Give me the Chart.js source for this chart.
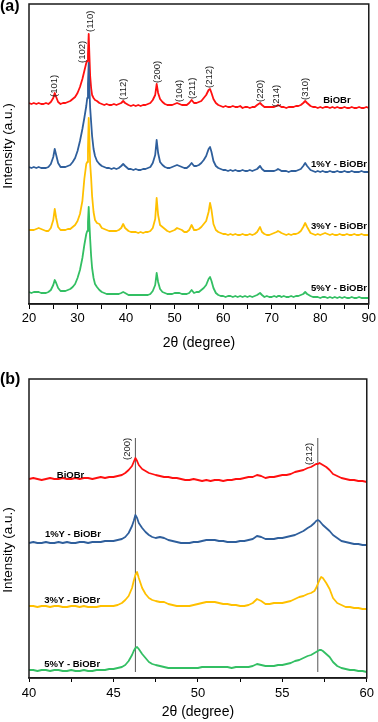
<!DOCTYPE html>
<html>
<head>
<meta charset="utf-8">
<script src="https://cdn.jsdelivr.net/npm/chart.js@4/dist/chart.umd.min.js"></script>
<style>
  html, body { margin: 0; padding: 0; background: #fff; }
  #wrapA { position: absolute; left: 0; top: 0; width: 378px; height: 365px; }
  #wrapB { position: absolute; left: 0; top: 365px; width: 378px; height: 357px; }
  canvas { display: block; }
</style>
</head>
<body>
<div id="wrapA"><canvas id="chartA" width="378" height="365"></canvas></div>
<div id="wrapB"><canvas id="chartB" width="378" height="357"></canvas></div>
<script>
// ---------- Panel (a): 2θ 20–90 ----------
const thetaA = [
  20, 20.5, 21, 21.5, 22, 22.5, 23, 23.5, 24, 24.5,
  25, 25.3, 25.6, 26, 26.5, 27, 27.5, 28, 28.5, 29,
  29.5, 30, 30.5, 31, 31.4, 31.8, 32.0, 32.15, 32.3, 32.45,
  32.6, 32.8, 33.0, 33.3, 33.6, 34, 34.5, 35, 35.5, 36,
  36.5, 37, 37.5, 38, 38.5, 39, 39.4, 39.8, 40.5, 41,
  41.5, 42, 42.5, 43, 43.5, 44, 44.5, 45, 45.5, 46,
  46.3, 46.6, 47, 47.5, 48, 48.5, 49, 49.5, 50, 50.5,
  51, 51.5, 52, 52.5, 53, 53.5, 54, 54.5, 55, 55.5,
  56, 56.5, 57, 57.3, 57.6, 58, 58.5, 59, 59.5, 60,
  60.5, 61, 61.5, 62, 62.5, 63, 63.5, 64, 64.5, 65,
  65.5, 66, 66.5, 67, 67.6, 68, 68.5, 69, 69.5, 70,
  70.5, 71, 71.3, 71.7, 72, 72.5, 73, 73.5, 74, 74.5,
  75, 75.5, 76, 76.5, 76.9, 77.3, 78, 78.5, 79, 79.5,
  80, 80.5, 81, 81.5, 82, 82.5, 83, 83.5, 84, 84.5,
  85, 85.5, 86, 86.5, 87, 87.5, 88, 88.5, 89, 89.5, 90
];
const bioBrA = [
  201, 200, 201, 200, 201, 200, 200, 201, 200, 202,
  206, 211, 207, 202, 200, 201, 201, 202, 203, 205,
  207, 211, 217, 225, 233, 241, 243, 250, 270, 248,
  228, 216, 209, 206, 204, 203, 201, 200, 199, 200,
  199, 199, 200, 199, 200, 201, 203, 201, 199, 198,
  199, 198, 199, 198, 199, 199, 200, 201, 204, 209,
  220, 211, 205, 202, 200, 199, 199, 199, 200, 201,
  200, 199, 199, 199, 201, 204, 201, 201, 202, 203,
  206, 209, 214, 215, 211, 205, 201, 199, 198, 197,
  198, 197, 197, 198, 197, 197, 198, 196, 197, 197,
  196, 197, 197, 199, 201, 199, 197, 197, 197, 197,
  197, 198, 199, 198, 197, 197, 196, 197, 197, 197,
  198, 198, 199, 201, 203, 201, 198, 197, 197, 196,
  197, 196, 197, 197, 196, 197, 196, 197, 196, 196,
  197, 196, 196, 197, 196, 196, 197, 196, 196, 197, 196
];
const y1A = [
  137, 136, 137, 136, 137, 136, 136, 136, 137, 140,
  147, 155, 149, 141, 137, 137, 137, 138, 139, 142,
  146, 153, 163, 175, 186, 198, 206, 220, 241, 215,
  196, 182, 168, 155, 148, 143, 140, 138, 137, 136,
  136, 135, 136, 135, 136, 138, 140, 138, 135, 135,
  134, 135, 134, 134, 135, 135, 136, 137, 141, 149,
  164, 151, 142, 139, 137, 136, 136, 137, 138, 139,
  138, 137, 136, 136, 138, 141, 138, 138, 139, 141,
  144, 148, 155, 157, 152, 143, 138, 136, 135, 134,
  134, 133, 134, 133, 134, 133, 133, 134, 133, 133,
  134, 133, 134, 135, 138, 135, 133, 133, 133, 133,
  133, 134, 135, 134, 133, 133, 133, 132, 133, 133,
  133, 134, 135, 138, 141, 138, 134, 133, 132, 133,
  132, 133, 132, 132, 133, 132, 132, 133, 132, 132,
  133, 132, 132, 133, 132, 132, 132, 133, 132, 132, 132
];
const y3A = [
  74, 74, 74, 75, 76, 75, 74, 73, 73, 76,
  84, 95, 86, 77, 74, 74, 74, 75, 75, 77,
  79, 83, 90, 103, 125, 140, 142, 155, 186, 165,
  140, 126, 108, 92, 84, 81, 80, 76, 75, 74,
  73, 73, 73, 73, 74, 76, 80, 76, 73, 72,
  72, 72, 71, 72, 71, 72, 72, 73, 76, 85,
  106, 89, 79, 77, 75, 73, 72, 73, 74, 76,
  75, 74, 72, 72, 74, 79, 74, 74, 75, 77,
  80, 83, 92, 101, 94, 80, 74, 72, 71, 70,
  70, 69, 70, 69, 70, 69, 69, 70, 69, 69,
  70, 69, 70, 72, 77, 72, 70, 69, 69, 70,
  71, 72, 73, 72, 71, 70, 69, 70, 69, 70,
  70, 71, 73, 77, 81, 77, 71, 70, 69, 70,
  69, 70, 71, 70, 69, 70, 69, 69, 70, 69,
  69, 70, 69, 69, 70, 69, 69, 70, 69, 69, 69
];
const y5A = [
  12, 11, 12, 12, 12, 11, 11, 11, 12, 14,
  19, 24, 21, 16, 13, 13, 13, 14, 15, 17,
  20, 26, 34, 46, 59, 70, 73, 82, 97, 80,
  65, 48, 36, 26, 20, 17, 14, 12, 11, 10,
  10, 10, 10, 10, 10, 11, 12, 11, 9, 9,
  9, 9, 9, 9, 9, 9, 9, 10, 13, 19,
  31, 22, 15, 12, 11, 10, 10, 10, 11, 11,
  11, 10, 10, 10, 11, 14, 11, 12, 12, 14,
  16, 19, 25, 27, 23, 16, 11, 9, 8, 8,
  7, 8, 8, 7, 8, 7, 8, 7, 8, 7,
  8, 7, 8, 9, 11, 9, 7, 8, 7, 7,
  8, 7, 8, 8, 7, 8, 7, 7, 8, 7,
  8, 8, 9, 10, 12, 10, 8, 7, 7, 7,
  6, 7, 7, 6, 7, 6, 7, 6, 7, 6,
  7, 6, 6, 7, 6, 6, 7, 6, 6, 6, 6
];
const millerA = ['(101)', '(102)', '(110)', '(112)', '(200)', '(104)', '(211)', '(212)', '(220)', '(214)', '(310)'];
const millerThetaA = [25.3, 31.05, 32.6, 39.5, 46.45, 50.9, 53.6, 57.2, 67.6, 71.0, 76.85];
const millerStartA = [207, 241, 272, 204, 221, 202, 205, 216, 202, 197, 204];

// ---------- Panel (b): 2θ 40–60 ----------
const thetaB = [
  40, 40.25, 40.5, 40.75, 41, 41.25, 41.5, 41.75, 42, 42.25, 42.5, 42.75, 43, 43.25, 43.5, 43.75,
  44, 44.25, 44.5, 44.75, 45, 45.25, 45.5,
  45.7, 45.9, 46.1, 46.2, 46.3, 46.4, 46.5, 46.7, 46.9, 47.1, 47.3,
  47.5, 47.75, 48, 48.25, 48.5, 48.75, 49, 49.25, 49.5, 49.75, 50, 50.25, 50.5, 50.75, 51, 51.25,
  51.5, 51.75, 52, 52.25, 52.5, 52.75, 53, 53.25, 53.5, 53.75, 54, 54.25, 54.5, 54.75, 55, 55.25,
  55.5, 55.75, 56, 56.25, 56.5,
  56.7, 56.9, 57.0, 57.1, 57.2, 57.3, 57.4, 57.6, 57.8,
  58, 58.25, 58.5, 58.75, 59, 59.25, 59.5, 59.75, 60
];
const bioBrB = [
  199, 200, 199, 198, 199, 200, 199, 199, 200, 199, 199, 200, 199, 200, 200, 199,
  200, 201, 200, 201, 201, 202, 203,
  205, 208, 212, 216, 220, 217, 213, 209, 207, 205, 204,
  203, 202, 201, 201, 200, 200, 199, 198, 198, 199, 198, 197, 198, 197, 198, 198,
  197, 198, 198, 199, 199, 200, 201, 201, 203, 202, 200, 201, 201, 202, 203, 203,
  204, 206, 207, 208, 210,
  211, 213, 214, 214, 215, 214, 213, 211, 208,
  204, 202, 200, 199, 198, 198, 197, 197, 196
];
const y1B = [
  135, 136, 135, 135, 136, 135, 135, 136, 135, 136, 135, 135, 136, 136, 135, 136,
  136, 136, 137, 137, 137, 138, 139,
  141, 145, 152, 157, 163, 160, 155, 150, 146, 143, 141,
  140, 141, 140, 138, 137, 136, 135, 135, 135, 136, 136, 137, 138, 138, 138, 137,
  137, 136, 136, 136, 137, 137, 138, 139, 142, 141, 139, 139, 139, 140, 140, 141,
  142, 143, 145, 147, 150,
  152, 155, 157, 158, 157, 155, 153, 150, 147,
  143, 140, 137, 136, 135, 134, 134, 133, 133
];
const y3B = [
  72, 72, 71, 72, 72, 71, 72, 72, 71, 71, 72, 72, 71, 72, 71, 71,
  71, 72, 72, 72, 72, 73, 75,
  78, 82, 90, 97, 103, 106, 100, 90, 84, 80, 78,
  77, 76, 76, 74, 73, 72, 72, 72, 72, 73, 74, 75, 76, 76, 76, 75,
  74, 74, 73, 73, 72, 72, 73, 75, 79, 77, 74, 74, 75, 75, 75, 76,
  77, 79, 81, 82, 84,
  85, 87, 90, 94, 98, 101, 100, 95, 89,
  80, 75, 73, 71, 71, 70, 70, 69, 69
];
const y5B = [
  8, 8, 7, 8, 8, 7, 8, 8, 7, 7, 8, 7, 7, 8, 7, 7,
  8, 8, 8, 9, 9, 10, 11,
  13, 17, 23, 27, 30, 31, 29, 24, 20, 16, 14,
  13, 12, 11, 10, 10, 10, 10, 10, 10, 10, 10, 11, 11, 11, 11, 11,
  11, 11, 10, 11, 11, 11, 11, 12, 14, 13, 12, 12, 12, 13, 13, 14,
  15, 17, 18, 20, 22,
  23, 25, 26, 27, 28, 28, 27, 24, 21,
  16, 12, 10, 9, 8, 8, 7, 7, 6
];
const refThetaB = [46.3, 57.1];
const refRangeB = [6, 240];
const millerB = ['(200)', '(212)'];
const millerThetaB = [45.8, 56.6];
const millerStartB = [218, 213];

// shared
const seriesNames = ['BiOBr', '1%Y - BiOBr', '3%Y - BiOBr', '5%Y - BiOBr'];
const seriesColors = ['#ff1010', '#2f5f9c', '#ffc000', '#33bf63'];
const nameThetaA = [80.6, 78.1, 78.1, 78.1];
const nameValA = [204, 140, 78, 16];
const nameThetaB = [41.65, 40.94, 40.9, 40.9];
const nameValB = [203, 144, 78, 14];

const FONT = '"Liberation Sans", Arial, Helvetica, sans-serif';

function pts(xs, ys) { return xs.map((x, i) => ({ x: x, y: ys[i] })); }

function traceSets(xs, arrs) {
  return arrs.map((arr, i) => ({
    label: seriesNames[i],
    data: pts(xs, arr),
    borderColor: seriesColors[i],
    borderWidth: 1.8,
    borderJoinStyle: 'round',
    pointRadius: 0,
    tension: 0,
    fill: false,
    order: 3 - i
  }));
}

function panelPlugin(o) {
  return {
    id: 'panel' + o.letter,
    afterDraw(chart) {
      const ctx = chart.ctx, a = chart.chartArea;
      const xs = chart.scales.x, ys = chart.scales.y;
      ctx.save();
      // frame
      ctx.strokeStyle = '#1a1a1a';
      ctx.lineWidth = 1.5;
      ctx.strokeRect(a.left, a.top, a.right - a.left, a.bottom - a.top);
      // Miller indices (rotated)
      ctx.fillStyle = '#1a1a1a';
      ctx.font = '9.5px ' + FONT;
      ctx.textAlign = 'left';
      ctx.textBaseline = 'middle';
      o.miller.forEach((t, i) => {
        ctx.save();
        ctx.translate(xs.getPixelForValue(o.millerTheta[i]), ys.getPixelForValue(o.millerStart[i]));
        ctx.rotate(-Math.PI / 2);
        ctx.fillText(t, 0, 0);
        ctx.restore();
      });
      // series names
      ctx.fillStyle = '#000';
      ctx.font = 'bold 9.5px ' + FONT;
      seriesNames.forEach((t, i) => {
        ctx.fillText(t, xs.getPixelForValue(o.nameTheta[i]), ys.getPixelForValue(o.nameVal[i]));
      });
      // panel letter
      ctx.font = 'bold 16px ' + FONT;
      ctx.textAlign = 'left';
      ctx.textBaseline = 'middle';
      ctx.fillText('(' + o.letter + ')', 0, o.letterY);
      // y title
      ctx.font = '13.5px ' + FONT;
      ctx.textAlign = 'center';
      ctx.translate(8, o.yTitleY);
      ctx.rotate(-Math.PI / 2);
      ctx.fillText('Intensity (a.u.)', 0, 0);
      ctx.restore();
    }
  };
}

function makeChart(id, o) {
  return new Chart(document.getElementById(id), {
    type: 'line',
    data: { datasets: o.datasets },
    options: {
      responsive: false,
      animation: false,
      events: [],
      layout: { padding: { left: 29, right: 7, top: o.padTop, bottom: 0 } },
      plugins: { legend: { display: false }, tooltip: { enabled: false } },
      scales: {
        x: {
          type: 'linear',
          min: o.xmin, max: o.xmax,
          afterFit: (s) => { s.height = o.axisH; },
          grid: { display: true, drawOnChartArea: false, drawTicks: true, tickLength: o.tickLen, color: '#000', lineWidth: 1 },
          border: { display: true, color: '#1a1a1a', width: 1.5 },
          ticks: {
            stepSize: o.step,
            autoSkip: false,
            maxRotation: 0,
            padding: o.tickPad,
            color: '#000',
            font: { family: FONT, size: 13 },
            callback: (v) => (Math.abs(v / o.labelEvery - Math.round(v / o.labelEvery)) < 1e-6 ? String(v) : '')
          },
          title: {
            display: true,
            text: '2θ (degree)',
            color: '#000',
            font: { family: FONT, size: 14 },
            padding: { top: 0, bottom: o.titlePad }
          }
        },
        y: { display: false, min: 0, max: o.ymax }
      }
    },
    plugins: [panelPlugin(o)]
  });
}

makeChart('chartA', {
  letter: 'a', letterY: 7, yTitleY: 146,
  datasets: traceSets(thetaA, [bioBrA, y1A, y3A, y5A]),
  xmin: 20, xmax: 90, step: 5, labelEvery: 10, ymax: 300,
  padTop: 4, axisH: 61, tickLen: 5, tickPad: 2, titlePad: 13,
  miller: millerA, millerTheta: millerThetaA, millerStart: millerStartA,
  nameTheta: nameThetaA, nameVal: nameValA
});

const refSets = refThetaB.map((t) => ({
  data: [{ x: t, y: refRangeB[0] }, { x: t, y: refRangeB[1] }],
  borderColor: '#555',
  borderWidth: 1,
  pointRadius: 0,
  order: 10
}));

makeChart('chartB', {
  letter: 'b', letterY: 15, yTitleY: 185,
  datasets: refSets.concat(traceSets(thetaB, [bioBrB, y1B, y3B, y5B])),
  xmin: 40, xmax: 60, step: 2.5, labelEvery: 5, ymax: 299,
  padTop: 14, axisH: 44, tickLen: 4, tickPad: 4, titlePad: 1,
  miller: millerB, millerTheta: millerThetaB, millerStart: millerStartB,
  nameTheta: nameThetaB, nameVal: nameValB
});
</script>
</body>
</html>
